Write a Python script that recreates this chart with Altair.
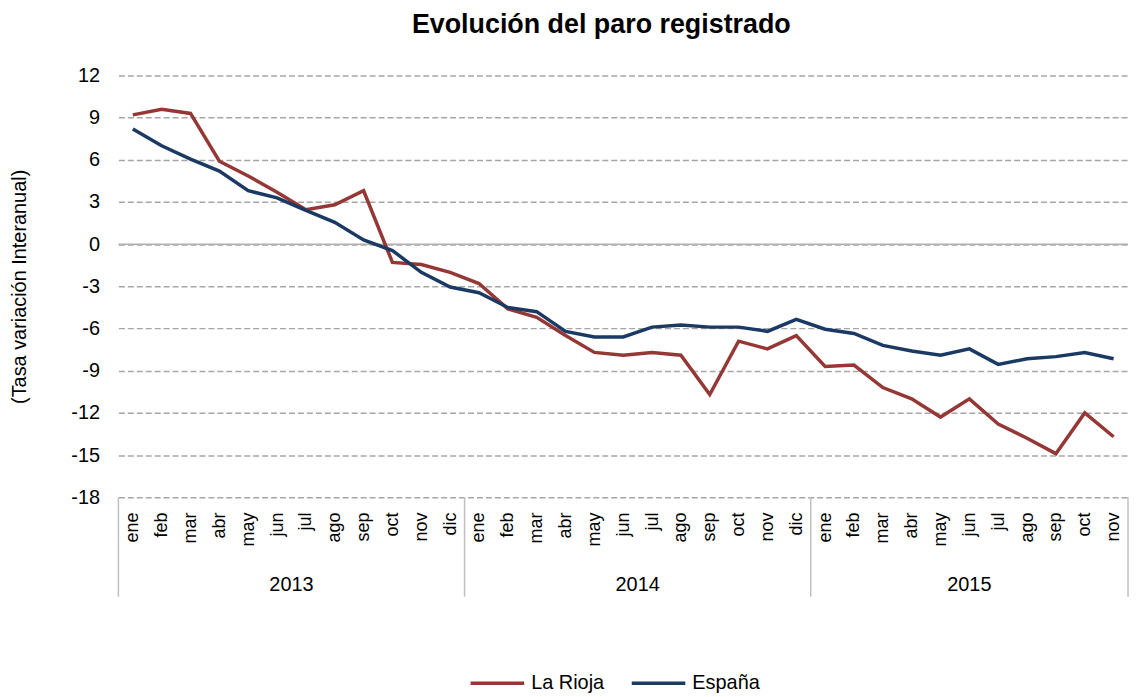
import altair as alt
import pandas as pd

months = ["ene", "feb", "mar", "abr", "may", "jun", "jul", "ago", "sep", "oct", "nov", "dic"]
years = ["2013", "2014", "2015"]
months_per_year = [12, 12, 11]

la_rioja = [9.2, 9.6, 9.3, 5.9, 4.85, 3.7, 2.45, 2.8, 3.8, -1.3, -1.45, -2.0,
            -2.8, -4.6, -5.2, -6.5, -7.7, -7.9, -7.7, -7.9, -10.7, -6.9, -7.45, -6.5,
            -8.7, -8.6, -10.2, -11.0, -12.3, -11.0, -12.8, -13.8, -14.9, -12.0, -13.7]
espana = [8.2, 7.0, 6.05, 5.2, 3.8, 3.3, 2.4, 1.55, 0.3, -0.45, -2.0, -3.05,
          -3.45, -4.5, -4.8, -6.2, -6.6, -6.6, -5.9, -5.75, -5.9, -5.9, -6.2, -5.35,
          -6.05, -6.35, -7.2, -7.6, -7.9, -7.45, -8.55, -8.15, -8.0, -7.7, -8.15]
series_names = ["La Rioja", "España"]
series_colors = ["#953735", "#1B3A63"]
y_ticks = list(range(-18, 13, 3))

FONT = "Liberation Sans"
W, H = 1015, 424
n = len(la_rioja)

rows = []
for name, vals in zip(series_names, [la_rioja, espana]):
    for i, v in enumerate(vals):
        rows.append({"idx": i, "value": v, "serie": name, "order": i})
df = pd.DataFrame(rows)

# year groups: boundaries and centers
bounds = [-0.5]
centers = []
start = 0
for c in months_per_year:
    centers.append(start + (c - 1) / 2)
    start += c
    bounds.append(start - 0.5)
df_bounds = pd.DataFrame({"idx": bounds})
df_years = pd.DataFrame({"idx": centers, "year": years})
df_zero = pd.DataFrame({"value": [0]})

label_expr = "[" + ",".join(f"'{m}'" for m in months) + "][datum.value % 12]"

xscale = alt.Scale(domain=[-0.5, n - 0.5], nice=False, zero=False)
yscale = alt.Scale(domain=[-18, 12], nice=False, zero=False)

X = alt.X("idx:Q", scale=xscale,
          axis=alt.Axis(values=list(range(n)), labelExpr=label_expr, labelAngle=-90,
                        labelFontSize=18, labelPadding=15, ticks=False, domain=False,
                        grid=False, title=None, labelOverlap=False, labelColor="black",
                        labelFont=FONT))
Y = alt.Y("value:Q", scale=yscale,
          axis=alt.Axis(values=y_ticks, grid=True, gridDash=[6, 3], gridColor="#a6a6a6",
                        gridWidth=1.5, ticks=False, domain=False, labelPadding=19,
                        labelExpr="'' + datum.value",
                        labelFontSize=20, labelColor="black", labelFont=FONT,
                        title="(Tasa variación Interanual)", titleFontSize=20,
                        titleFontWeight="normal", titleColor="black", titleFont=FONT,
                        titlePadding=41))

lines = alt.Chart(df).mark_line(strokeWidth=3.5).encode(
    x=X, y=Y,
    color=alt.Color("serie:N", scale=alt.Scale(domain=series_names, range=series_colors),
                    legend=alt.Legend(orient="none", legendX=352, legendY=582,
                                      direction="horizontal", title=None,
                                      symbolType="stroke", symbolSize=2900,
                                      symbolStrokeWidth=3.5, labelFontSize=20,
                                      labelFont=FONT, labelColor="black",
                                      columnPadding=20, padding=0, labelOffset=5)),
    order="order:Q",
)

zero_rule = alt.Chart(df_zero).mark_rule(color="#b0b0b0", strokeWidth=1.5).encode(y=Y)

separators = alt.Chart(df_bounds).mark_rule(color="#bfbfbf", strokeWidth=1.5).encode(
    x=X,
    y=alt.value(H),
    y2=alt.value(H + 100),
)

year_text = alt.Chart(df_years).mark_text(fontSize=20, font=FONT, color="black").encode(
    x=X,
    y=alt.value(H + 88),
    text="year:N",
)

chart = alt.layer(zero_rule, lines, separators, year_text).properties(
    width=W, height=H,
    title=alt.TitleParams("Evolución del paro registrado", fontSize=27, fontWeight="bold",
                          font=FONT, color="black", anchor="middle", dx=-22, offset=27),
    autosize=alt.AutoSizeParams(type="none"),
    padding={"left": 111, "top": 66, "right": 2, "bottom": 198},
).configure_view(stroke=None)

chart.save("out.html", embed_options={"renderer": "svg", "actions": False})
